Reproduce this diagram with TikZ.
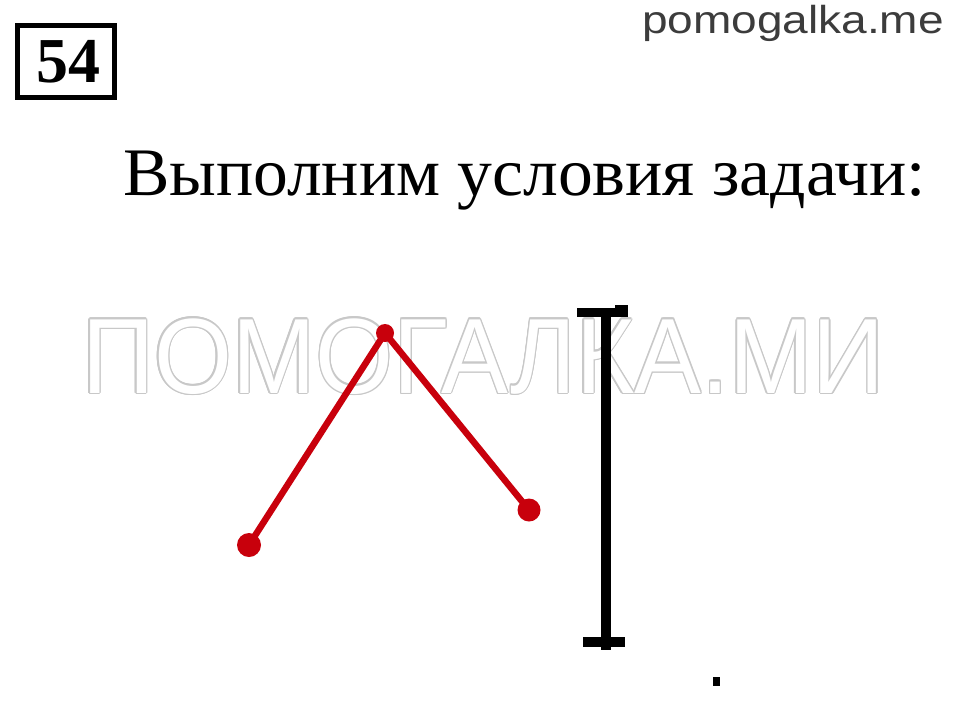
\documentclass[tikz,border=0pt]{standalone}
\usepackage{fontspec}
\usetikzlibrary{calc}
\setmainfont{Liberation Serif}
\newfontfamily\sansfont{Liberation Sans}
\definecolor{redline}{RGB}{200,0,12}
\definecolor{wmgray}{RGB}{200,200,200}
\definecolor{sitegray}{RGB}{60,60,60}
\tikzset{
  reddot/.style={circle, fill=redline, inner sep=0pt, minimum size=#1},
  plain/.style={inner sep=0pt, outer sep=0pt},
}
\newcommand{\wmtext}{\sansfont\fontsize{107}{107}\selectfont\scalebox{0.937}[1]{ПОМОГАЛКА.МИ}}
\begin{document}
\begin{tikzpicture}[x=1pt,y=-1pt]
\useasboundingbox (0,0) rectangle (960,712);
\fill[white] (0,0) rectangle (960,712);

% watermark (outlined letters)
\foreach \a [count=\i] in {0,30,...,330} {
  \node[plain, anchor=base west, text=wmgray] (wm\i) at ($(82,393)+(\a:1.3)$) {\wmtext};
}
\node[plain, anchor=base west, text=white] (wm) at (82,393) {\wmtext};

% number box
\node[draw, line width=5pt, minimum width=97, minimum height=72, inner sep=0pt] (num) at (66,61.5) {};
\node[plain] (numtext) at (68.5,62) {\fontsize{64}{64}\selectfont\bfseries 54};

% site name
\node[plain, anchor=base west, text=sitegray] (site) at (642,33)
  {\sansfont\fontsize{39}{39}\selectfont\scalebox{1.18}[1]{pomogalka.me}};

% title
\node[plain, anchor=base west] (title) at (123,195)
  {\fontsize{68}{68}\selectfont\scalebox{1.023}[1]{Выполним условия задачи:}};

% red broken line
\node[reddot=24] (A) at (249,545) {};
\node[reddot=18] (B) at (385,333) {};
\node[reddot=23] (C) at (529,510) {};
\draw[redline, line width=6.5pt] (A.center) -- (B.center) -- (C.center);

% black segment
\coordinate (T) at (606,308);
\coordinate (Bo) at (606,650);
\coordinate (TL) at (577,312.5);
\coordinate (TR) at (628,312.5);
\coordinate (BL) at (583,641.5);
\coordinate (BR) at (625,641.5);
\coordinate (TS1) at (615,308.5);
\coordinate (TS2) at (628,308.5);
\draw[line width=10pt] (T) -- (Bo);
\draw[line width=9pt] (TL) -- (TR);
\draw[line width=8pt] (TS1) -- (TS2);
\draw[line width=10pt] (BL) -- (BR);

% small point
\node[fill=black, inner sep=0pt, minimum width=7, minimum height=9] (pt) at (716,681.5) {};
\end{tikzpicture}
\end{document}
